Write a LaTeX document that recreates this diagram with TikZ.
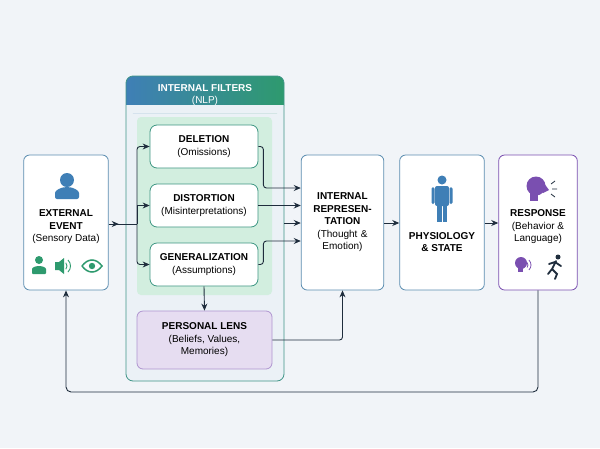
\documentclass[tikz,border=0pt]{standalone}
\usepackage{fontspec}
\setmainfont{Liberation Sans}
\usetikzlibrary{arrows.meta,positioning,calc,shapes.geometric}
\definecolor{bgc}{HTML}{F1F4F8}
\definecolor{edgeblue}{HTML}{5B8DB0}
\definecolor{ink}{HTML}{1F2D3D}
\definecolor{iconblue}{HTML}{3F7FB6}
\definecolor{icongreen}{HTML}{2E9A6E}
\definecolor{purp}{HTML}{7A4FB0}
\definecolor{panelgreen}{HTML}{D2EEDF}
\definecolor{lensfill}{HTML}{E6DDF1}
\tikzset{
  box/.style={draw=edgeblue,fill=white,rounded corners=6pt,line width=0.8pt,align=center,font=\fontsize{10}{12.5}\selectfont},
  filt/.style={box,draw=icongreen!70!edgeblue,minimum width=108pt,minimum height=43pt,rounded corners=7pt},
  big/.style={box,minimum height=135pt,text width=78pt},
  txt/.style={align=center,font=\fontsize{10}{12.5}\selectfont},
  flow/.style={draw=ink,line width=0.9pt,-{Stealth[length=7pt,width=6pt]}},
  line/.style={draw=ink,line width=0.9pt,rounded corners=3pt}
}
\begin{document}
\begin{tikzpicture}[x=1pt,y=-1pt]
\fill[bgc] (0,0) rectangle (600,448);
\useasboundingbox (0,0) rectangle (600,448);
% filter frame
\fill[edgeblue!12,rounded corners=7pt] (126,76) rectangle (284,381);
\shade[left color=iconblue,right color=icongreen,rounded corners=7pt] (126,76) rectangle (284,113);
\fill[edgeblue!12] (126.4,105) rectangle (283.6,113);
\draw[icongreen!60!edgeblue,line width=0.8pt,rounded corners=7pt] (126,76) rectangle (284,381);
\node[txt,text=white] (head) at (205,95) {\textbf{INTERNAL FILTERS}\\(NLP)};
\fill[panelgreen,rounded corners=4pt] (137,117) rectangle (272,295);
% nodes
\node[big] (ext) at (66,222.5) {};
\node[txt] (extt) at (66,227) {\textbf{EXTERNAL}\\\textbf{EVENT}\\(Sensory Data)};
\node[filt] (del) at (204,146.5) {\textbf{DELETION}\\(Omissions)};
\node[filt] (dis) at (204,205.5) {\textbf{DISTORTION}\\(Misinterpretations)};
\node[filt] (gen) at (204,264.5) {\textbf{GENERALIZATION}\\(Assumptions)};
\node[box,fill=lensfill,draw=purp!60,minimum width=135pt,minimum height=58pt] (lens) at (204.5,340) {\textbf{PERSONAL LENS}\\(Beliefs, Values,\\Memories)};
\node[big,text width=76pt] (rep) at (342.5,222.5) {\textbf{INTERNAL}\\\textbf{REPRESEN-}\\\textbf{TATION}\\(Thought \&\\Emotion)};
\node[big,text width=78pt] (phys) at (442,222.5) {};
\node[txt] (physt) at (442,242) {\textbf{PHYSIOLOGY}\\\textbf{\& STATE}};
\node[big,draw=purp,text width=72pt] (resp) at (538,222.5) {};
\node[txt] (respt) at (538,227) {\textbf{RESPONSE}\\(Behavior \&\\Language)};
% icons
\fill[iconblue] (67,180) circle (7);
\fill[iconblue,rounded corners=2pt] (55,199) -- (55,195) arc (180:360:12 and 8) -- (79,199) -- cycle;
\fill[icongreen] (39,260) circle (4);
\fill[icongreen,rounded corners=1pt] (32,274) -- (32,270) arc (180:360:7 and 4) -- (46,274) -- cycle;
\fill[icongreen] (55,262) -- (59,262) -- (64,258) -- (64,274) -- (59,270) -- (55,270) -- cycle;
\draw[icongreen,line width=0.9pt] (62,266) ++(-40:5) arc (-40:40:5) (62,266) ++(-45:8.5) arc (-45:45:8.5);
\draw[icongreen,line width=1.5pt] (82,266) .. controls (88,258) and (96,258) .. (102,266) .. controls (96,274) and (88,274) .. (82,266);
\fill[icongreen] (92,266) circle (3.2);
% physiology figure
\fill[iconblue] (442,180) circle (4.5);
\fill[iconblue,rounded corners=2pt] (435,186) rectangle (449,206);
\fill[iconblue] (437,204) rectangle (441.5,222);
\fill[iconblue] (442.5,204) rectangle (447,222);
\fill[iconblue,rounded corners=1.5pt] (431.5,187) rectangle (434.5,204);
\fill[iconblue,rounded corners=1.5pt] (449.5,187) rectangle (452.5,204);
% response head
\fill[purp] (536,186) circle (9.5);
\fill[purp] (530,190) rectangle (538,201);
\fill[purp] (543,182) -- (549,190) -- (543,193) -- cycle;
\draw[ink,line width=0.8pt] (551,184) -- (555,181) (552,189) -- (557,189) (551,194) -- (555,197);
\fill[purp] (521,263) circle (6);
\fill[purp] (518,266) rectangle (523,272);
\draw[purp,line width=0.8pt] (524,265) ++(-40:4) arc (-40:40:4) (524,265) ++(-45:7) arc (-45:45:7);
\fill[ink] (558,257) circle (2.5);
\draw[ink,line width=1.8pt,line cap=round] (556,261) -- (552,269) -- (548,274) (552,269) -- (557,274) -- (555,279) (555,262) -- (561,266) (555,262) -- (549,264);
% connectors
\coordinate (split) at (137,224);
\draw[line] (ext.east |- split) -- (split);
\draw[flow] (ext.east |- split) -- ++(10,0);
\draw[flow,rounded corners=3pt] (split) |- (del.west);
\draw[flow] (split) |- (dis.west);
\draw[flow,rounded corners=3pt] (split) |- (gen.west);
\draw[flow,rounded corners=3pt] (del.east) -- ++(5,0) |- (rep.west |- 0,188);
\draw[flow] (dis.east) -- (rep.west |- dis.east);
\draw[flow] (284,223) -- (rep.west |- 0,223);
\draw[flow,rounded corners=3pt] (gen.east) -- ++(5,0) |- (rep.west |- 0,241);
\draw[flow] (gen.south) -- (lens.north);
\draw[flow,rounded corners=3pt] (lens.east) -| (rep.south);
\draw[flow] (rep.east |- 0,223) -- (phys.west |- 0,223);
\draw[flow] (phys.east |- 0,223) -- (resp.west |- 0,223);
\draw[flow,rounded corners=5pt] (resp.south) |- (66,392) -- (ext.south);
\end{tikzpicture}
\end{document}
